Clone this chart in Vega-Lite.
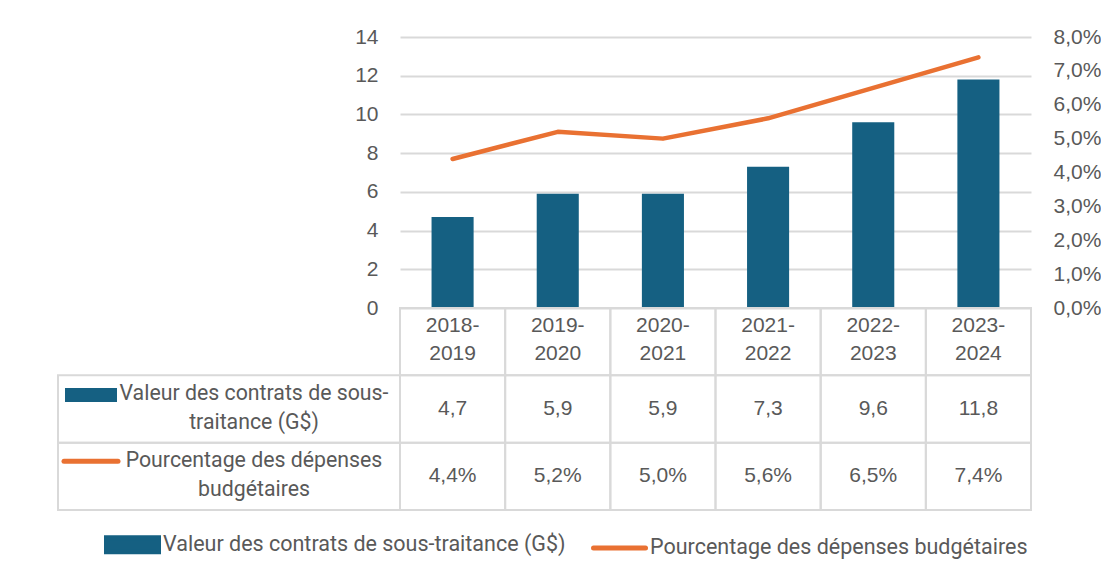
{
  "$schema": "https://vega.github.io/schema/vega-lite/v6.json",
  "padding": {"left": 54, "top": 26, "right": 0, "bottom": 0},
  "background": "white",
  "datasets": {
    "d": [
      {"cat": "2018-2019", "valeur": 4.7, "pct": 0.044},
      {"cat": "2019-2020", "valeur": 5.9, "pct": 0.052},
      {"cat": "2020-2021", "valeur": 5.9, "pct": 0.050},
      {"cat": "2021-2022", "valeur": 7.3, "pct": 0.056},
      {"cat": "2022-2023", "valeur": 9.6, "pct": 0.065},
      {"cat": "2023-2024", "valeur": 11.8, "pct": 0.074}
    ],
    "rows": [
      {"row": "valeur", "label": "Valeur des contrats de sous-\ntraitance (G$)"},
      {"row": "pct", "label": "Pourcentage des dépenses\nbudgétaires"}
    ]
  },
  "columns": 2,
  "spacing": 0,
  "bounds": "flush",
  "align": "each",
  "concat": [
    {
      "width": 342,
      "height": 271,
      "data": {"values": [{"x": ""}]},
      "mark": {"type": "text", "text": ""}
    },
    {
      "width": 631,
      "height": 271,
      "data": {"name": "d"},
      "encoding": {
        "x": {"field": "cat", "type": "nominal", "sort": null, "axis": null,
              "scale": {"type": "band", "paddingInner": 0.6, "paddingOuter": 0.3}},
        "color": {
          "type": "nominal",
          "scale": {"domain": ["Valeur des contrats de sous-traitance (G$)", "Pourcentage des dépenses budgétaires"],
                    "range": ["#156082", "#E97132"]},
          "legend": {
            "title": null,
            "orient": "none",
            "legendX": 46,
            "legendY": 479,
            "direction": "horizontal",
            "symbolSize": 2704,
            "columnPadding": 17,
            "labelOffset": 2,
            "labelFont": "Roboto",
            "labelFontSize": 21.5,
            "labelColor": "#595959",
            "labelLimit": 600,
            "encode": {
              "symbols": {
                "update": {
                  "shape": {"signal": "datum.value === 'Pourcentage des dépenses budgétaires' ? 'M-1,0H1' : 'M-1,-0.27H1V0.27H-1Z'"},
                  "fill": {"signal": "datum.value === 'Pourcentage des dépenses budgétaires' ? 'transparent' : '#156082'"},
                  "stroke": {"signal": "datum.value === 'Pourcentage des dépenses budgétaires' ? '#E97132' : 'transparent'"},
                  "strokeWidth": {"value": 5},
                  "strokeCap": {"value": "round"},
                  "opacity": {"value": 1}
                }
              }
            }
          }
        }
      },
      "layer": [
        {
          "mark": {"type": "bar"},
          "encoding": {
            "y": {"field": "valeur", "type": "quantitative",
                  "scale": {"domain": [0, 14], "nice": false},
                  "axis": {"values": [0, 2, 4, 6, 8, 10, 12, 14], "grid": true, "orient": "left"}},
            "color": {"datum": "Valeur des contrats de sous-traitance (G$)", "type": "nominal"}
          }
        },
        {
          "mark": {"type": "line", "strokeWidth": 4.5, "strokeCap": "round", "strokeJoin": "round"},
          "encoding": {
            "y": {"field": "pct", "type": "quantitative",
                  "scale": {"domain": [0, 0.08], "nice": false},
                  "axis": {"values": [0, 0.01, 0.02, 0.03, 0.04, 0.05, 0.06, 0.07, 0.08], "format": ".1%", "grid": false, "orient": "right"}},
            "color": {"datum": "Pourcentage des dépenses budgétaires", "type": "nominal"}
          }
        }
      ],
      "resolve": {"scale": {"y": "independent"}}
    },
    {
      "width": 342,
      "height": 202,
      "data": {"name": "rows"},
      "encoding": {
        "y": {"field": "row", "type": "nominal", "axis": null,
              "scale": {"type": "band", "domain": ["cat", "valeur", "pct"], "paddingInner": 0, "paddingOuter": 0}}
      },
      "layer": [
        {
          "mark": {"type": "rect", "filled": false, "stroke": "#d9d9d9", "strokeWidth": 2},
          "encoding": {"x": {"value": 0}, "x2": {"value": "width"}}
        },
        {
          "mark": {"type": "text", "lineBreak": "\n", "lineHeight": 29, "font": "Roboto", "fontSize": 21.3, "color": "#595959", "xOffset": 25, "yOffset": -15.5, "baseline": "middle"},
          "encoding": {"text": {"field": "label"}}
        },
        {
          "transform": [{"filter": "datum.row === 'valeur'"}],
          "mark": {"type": "point", "shape": "M-1,-0.27H1V0.27H-1Z", "size": 2704, "filled": true, "color": "#156082", "opacity": 1, "strokeWidth": 0, "xOffset": -138, "yOffset": -14}
        },
        {
          "transform": [{"filter": "datum.row === 'pct'"}],
          "mark": {"type": "point", "shape": "M-1,0H1", "size": 2916, "filled": false, "color": "#E97132", "opacity": 1, "strokeWidth": 5, "strokeCap": "round", "xOffset": -138, "yOffset": -15}
        }
      ]
    },
    {
      "width": 631,
      "height": 202,
      "data": {"name": "d"},
      "transform": [{"calculate": "replace(datum.cat, '-', '-\\n')", "as": "catLabel"}],
      "encoding": {
        "x": {"field": "cat", "type": "nominal", "sort": null, "axis": null,
              "scale": {"type": "band", "paddingInner": 0, "paddingOuter": 0}}
      },
      "layer": [
        {
          "mark": {"type": "rect", "filled": false, "stroke": "#d9d9d9", "strokeWidth": 2},
          "encoding": {"y": {"datum": "cat", "type": "nominal", "axis": null,
                             "scale": {"type": "band", "domain": ["cat", "valeur", "pct"], "paddingInner": 0, "paddingOuter": 0}}}
        },
        {
          "mark": {"type": "rect", "filled": false, "stroke": "#d9d9d9", "strokeWidth": 2},
          "encoding": {"y": {"datum": "valeur", "type": "nominal"}}
        },
        {
          "mark": {"type": "rect", "filled": false, "stroke": "#d9d9d9", "strokeWidth": 2},
          "encoding": {"y": {"datum": "pct", "type": "nominal"}}
        },
        {
          "mark": {"type": "text", "lineBreak": "\n", "lineHeight": 28, "font": "Liberation Sans", "fontSize": 21, "color": "#595959", "baseline": "middle", "yOffset": -16},
          "encoding": {"y": {"datum": "cat", "type": "nominal"}, "text": {"field": "catLabel"}}
        },
        {
          "mark": {"type": "text", "font": "Liberation Sans", "fontSize": 21, "color": "#595959", "baseline": "middle"},
          "encoding": {"y": {"datum": "valeur", "type": "nominal"}, "text": {"field": "valeur", "type": "quantitative", "format": ".1f"}}
        },
        {
          "mark": {"type": "text", "font": "Liberation Sans", "fontSize": 21, "color": "#595959", "baseline": "middle"},
          "encoding": {"y": {"datum": "pct", "type": "nominal"}, "text": {"field": "pct", "type": "quantitative", "format": ".1%"}}
        }
      ]
    }
  ],
  "config": {
    "locale": {"number": {"decimal": ",", "thousands": " ", "grouping": [3], "currency": ["", " $"]}},
    "view": {"stroke": null},
    "axis": {
      "labelFont": "Liberation Sans",
      "labelFontSize": 21,
      "labelColor": "#595959",
      "gridColor": "#d9d9d9",
      "gridWidth": 2,
      "domain": false,
      "ticks": false,
      "title": null,
      "labelPadding": 22
    }
  }
}
